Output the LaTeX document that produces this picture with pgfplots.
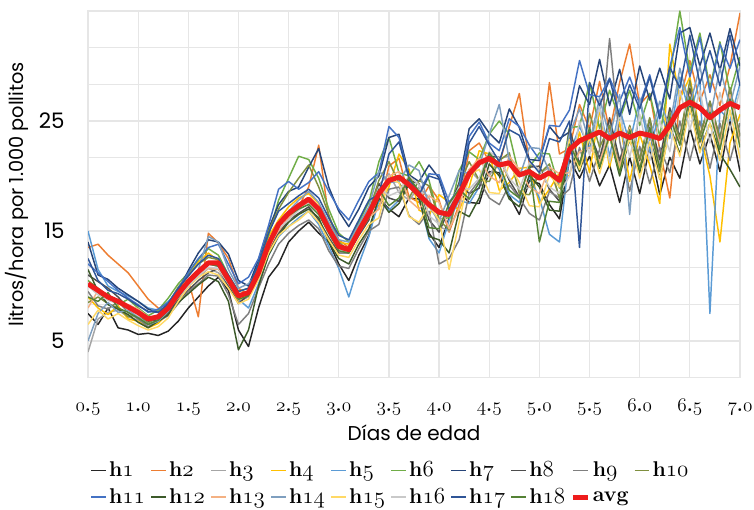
\documentclass[border=0pt]{standalone}
\usepackage{fontspec}
\usepackage{pgfplots}
\usepackage{pgfplotstable}
\pgfplotsset{compat=1.18}
\newfontfamily\gothic{Poppins}
% oldstyle figures from Latin Modern math italic (bold)
\newcommand\osf[1]{{\fontencoding{OML}\fontfamily{lmm}\fontseries{b}\fontshape{it}\selectfont#1}}
\newcommand\tl[2]{\osf{#1}.\osf{#2}}

\definecolor{c1}{HTML}{252525}
\definecolor{c2}{HTML}{ED7D31}
\definecolor{c3}{HTML}{A5A5A5}
\definecolor{c4}{HTML}{FFC000}
\definecolor{c5}{HTML}{5B9BD5}
\definecolor{c6}{HTML}{70AD47}
\definecolor{c7}{HTML}{264478}
\definecolor{c8}{HTML}{4D4D4D}
\definecolor{c9}{HTML}{7F7F7F}
\definecolor{c10}{HTML}{7F8F3F}
\definecolor{c11}{HTML}{4472C4}
\definecolor{c12}{HTML}{3C5A2A}
\definecolor{c13}{HTML}{F4B183}
\definecolor{c14}{HTML}{7F9FBF}
\definecolor{c15}{HTML}{FFD966}
\definecolor{c16}{HTML}{C9C9C9}
\definecolor{c17}{HTML}{2F5597}
\definecolor{c18}{HTML}{548235}
\definecolor{avgred}{HTML}{EE1C1C}
\definecolor{gridc}{HTML}{E6E6E6}

\pgfplotstableread{
x h1 h2 h3 h4 h5 h6 h7 h8 h9 h10 h11 h12 h13 h14 h15 h16 h17 h18 avg
0.5 7.5 13.5 4.0 9.0 15.0 10.5 14.0 11.0 9.5 8.5 12.0 11.5 8.0 5.0 6.5 10.0 12.5 9.0 10.2
0.6 6.5 13.8 7.0 8.0 11.5 9.8 11.0 10.4 8.2 9.0 11.2 9.5 9.6 7.5 7.8 9.2 10.5 8.6 9.6
0.7 8.0 12.8 7.6 7.4 10.0 9.1 10.6 9.8 7.9 8.4 10.4 8.3 8.8 8.5 7.0 8.7 9.6 9.4 9.0
0.8 6.2 12.0 7.8 8.2 9.5 8.3 9.8 9.0 8.6 8.0 9.6 7.9 8.5 7.6 7.5 8.4 9.3 8.0 8.6
0.9 6.0 11.2 7.2 7.0 9.1 8.8 9.2 8.0 7.6 7.2 8.9 7.4 8.3 7.8 6.9 8.0 8.8 7.6 8.1
1.0 5.6 10.0 6.9 6.8 8.6 8.0 8.6 7.4 7.0 7.4 8.3 6.7 7.9 7.2 6.4 7.3 8.2 7.1 7.6
1.1 5.7 8.8 6.5 6.2 8.0 7.3 7.9 6.8 6.3 6.6 7.6 6.2 7.2 6.5 6.0 7.0 7.7 6.5 7.0
1.2 5.5 8.0 6.9 6.6 7.8 7.8 7.6 6.9 6.8 7.3 7.9 6.8 7.1 6.8 6.3 7.4 7.6 6.9 7.2
1.3 5.9 7.8 7.6 7.5 8.6 8.9 8.2 7.6 7.3 8.4 8.5 7.4 7.8 7.7 7.1 8.0 8.4 7.8 8.0
1.4 6.8 9.5 8.8 9.6 9.4 10.2 9.6 8.7 8.4 9.9 9.8 8.5 9.1 9.2 8.6 9.0 9.8 9.0 9.3
1.5 8.0 10.5 10.0 11.0 10.6 11.2 11.4 9.6 9.5 11.0 11.2 9.3 10.2 10.6 9.9 10.0 10.9 10.3 10.4
1.6 9.0 7.2 10.8 12.2 11.3 12.4 13.0 10.5 10.2 12.0 12.5 10.1 11.0 11.5 10.8 10.9 12.0 11.2 11.3
1.7 10.0 14.8 11.6 13.0 12.0 13.4 14.2 11.2 11.0 12.6 13.5 10.8 11.6 14.5 11.3 11.7 12.8 12.0 12.1
1.8 10.8 13.9 11.2 12.3 11.8 12.8 14.0 11.6 10.9 12.4 13.8 10.4 11.5 14.0 11.0 11.6 12.5 11.8 12.1
1.9 9.6 12.5 10.0 10.2 10.4 11.0 12.9 10.0 9.2 10.7 12.0 8.6 10.3 11.5 9.8 10.2 11.0 10.3 10.6
2.0 6.0 9.8 8.6 8.7 8.8 9.5 10.5 8.4 6.5 9.0 10.2 4.2 9.0 9.8 8.4 8.9 9.5 8.8 9.1
2.1 4.5 9.2 9.0 9.3 8.0 9.8 10.0 9.2 7.5 9.5 10.8 6.0 9.6 10.2 8.8 9.5 9.8 9.1 9.4
2.2 8.0 11.0 11.4 11.2 10.2 12.0 12.4 10.8 9.8 11.8 12.5 10.0 11.5 11.4 10.6 11.0 12.0 11.0 11.2
2.3 10.8 13.2 14.0 14.5 12.8 14.6 15.2 13.0 12.0 15.0 15.5 12.8 13.8 14.0 13.0 13.5 14.8 13.6 13.8
2.4 12.0 14.8 16.0 16.0 14.5 17.8 17.4 14.8 13.8 17.0 18.8 14.6 15.0 15.8 14.6 15.2 16.8 15.5 15.6
2.5 14.0 16.0 16.8 17.2 15.4 19.8 18.6 16.0 14.8 18.5 19.5 15.8 16.2 16.8 15.4 16.0 17.5 16.4 16.6
2.6 15.0 17.2 17.5 18.0 16.2 21.8 19.0 16.6 15.5 19.8 18.8 16.5 17.0 17.8 16.0 16.9 18.2 17.0 17.3
2.7 15.8 19.0 18.0 18.4 16.8 21.5 20.8 17.2 16.0 21.0 19.4 17.0 17.6 18.6 16.8 17.5 18.8 17.4 17.9
2.8 14.8 22.8 17.0 17.5 15.6 19.8 22.5 16.0 15.2 19.0 20.4 16.2 16.8 17.6 15.8 16.8 18.0 16.5 17.0
2.9 14.0 16.2 15.0 15.4 13.6 17.0 19.0 14.4 13.2 16.5 18.6 14.0 15.0 15.8 14.2 15.0 16.2 14.8 15.2
3.0 12.0 14.2 13.4 14.0 11.6 14.8 16.8 13.0 11.8 14.0 17.0 12.5 13.4 14.2 12.8 13.6 14.6 13.2 13.6
3.1 10.5 13.5 13.0 13.8 9.0 14.0 15.4 13.0 11.6 13.2 16.0 12.0 13.2 14.0 12.6 13.4 14.2 13.0 13.3
3.2 12.8 15.0 14.8 15.4 12.0 15.8 17.0 14.6 13.4 15.0 17.8 13.8 14.8 15.6 14.2 15.0 16.0 14.8 15.0
3.3 14.6 16.4 16.4 17.0 14.5 17.6 19.0 16.0 15.0 16.8 19.5 15.2 16.2 17.2 15.6 16.4 17.8 16.2 16.6
3.4 18.0 17.0 19.2 17.3 17.8 21.3 20.0 19.3 15.6 19.6 20.3 18.0 17.0 20.5 16.2 19.0 18.3 18.8 18.4
3.5 17.0 20.9 20.2 19.0 16.9 23.5 23.5 18.0 18.8 21.3 24.5 16.7 20.0 19.4 19.7 18.2 22.0 17.3 19.6
3.6 16.3 21.6 18.5 22.0 17.8 20.3 23.8 17.7 19.0 19.4 23.5 17.5 20.4 19.5 19.4 18.6 23.1 18.0 19.9
3.7 18.0 18.1 17.8 20.6 19.7 20.0 20.1 19.6 16.4 18.0 19.8 19.3 17.8 21.0 16.3 20.0 19.8 19.9 19.2
3.8 17.9 17.6 19.0 16.9 18.0 21.3 19.5 19.3 15.6 19.6 18.5 18.0 17.0 20.5 15.8 19.2 18.3 18.6 18.3
3.9 14.8 19.1 18.0 16.4 14.3 19.6 21.0 16.0 16.8 19.1 20.2 14.5 18.2 17.2 17.3 16.4 20.0 15.3 17.4
4.0 13.5 17.8 15.4 18.3 13.0 16.1 19.8 14.9 12.0 16.0 20.1 14.2 17.6 15.9 16.0 15.6 19.7 15.2 16.7
4.1 16.2 14.9 15.0 17.6 16.0 16.2 16.9 17.0 12.5 15.1 17.6 13.0 15.2 18.2 11.5 17.2 17.0 17.5 16.5
4.2 18.5 17.4 18.8 16.9 17.8 20.5 19.4 19.3 14.2 19.2 18.9 16.8 17.0 20.5 15.8 19.0 18.3 18.8 18.3
4.3 17.6 22.3 20.6 19.0 17.5 22.2 24.3 18.4 18.4 21.3 23.6 16.3 20.6 20.2 20.1 18.8 23.0 17.9 20.2
4.4 17.5 23.0 19.6 22.3 19.0 21.5 25.2 18.9 19.6 19.6 24.9 18.0 21.6 20.9 20.6 19.8 24.5 19.4 21.2
4.5 20.4 21.3 20.0 22.0 21.9 23.8 23.9 21.8 18.0 19.5 23.0 21.1 20.0 23.8 18.5 22.2 22.8 22.1 21.6
4.6 20.3 21.0 21.6 18.7 20.6 25.0 23.0 21.7 17.4 21.4 22.3 20.0 19.4 26.5 18.4 21.6 21.3 21.0 21.0
4.7 18.2 24.5 21.8 19.4 18.3 23.8 26.1 19.6 19.2 22.1 25.2 17.9 21.8 21.4 21.1 19.8 24.2 18.7 21.2
4.8 16.5 27.5 18.6 20.7 17.6 20.0 24.4 18.1 18.0 18.4 24.5 17.2 20.6 19.9 19.4 18.8 23.7 18.0 20.1
4.9 19.6 21.1 19.0 20.8 19.9 20.8 21.5 20.8 16.6 18.3 22.8 20.1 19.0 22.6 17.3 21.2 21.4 20.9 20.4
5.0 19.3 20.6 20.2 17.5 18.0 22.1 21.4 20.9 16.0 20.2 21.5 19.0 18.4 22.5 17.2 20.6 20.3 14.0 19.8
5.1 17.4 28.5 20.8 18.8 14.7 22.0 24.5 18.8 18.6 21.1 24.6 16.9 20.8 20.4 20.1 19.0 23.4 17.7 20.3
5.2 16.1 22.0 18.0 20.3 14.0 18.9 23.4 17.7 18.0 18.0 24.5 16.8 20.2 19.3 19.0 18.4 23.1 17.6 19.6
5.3 21.5 22.5 23.6 20.0 22.0 24.4 24.0 24.3 18.8 23.5 26.0 22.6 20.3 23.8 23.3 20.0 25.0 22.9 22.4
5.4 19.8 26.5 20.9 24.0 24.5 24.5 28.2 21.1 22.6 20.8 30.5 20.4 22.2 26.1 20.6 25.0 13.5 21.0 23.2
5.5 21.8 24.3 24.0 20.3 22.5 28.5 26.5 24.0 19.5 25.7 27.4 23.3 22.6 23.0 23.5 21.9 28.5 24.4 23.6
5.6 19.1 28.6 21.2 26.0 26.4 24.3 30.6 21.6 22.4 22.6 27.2 20.7 21.3 27.1 20.2 26.3 26.4 20.8 24.0
5.7 21.0 24.0 25.1 20.8 21.8 27.8 26.4 25.3 32.5 24.6 28.9 23.6 23.9 23.5 23.6 21.2 28.8 23.7 23.4
5.8 17.6 28.5 21.2 24.9 26.1 25.1 29.7 21.4 23.2 20.7 26.8 20.0 20.8 27.4 20.5 25.6 25.4 20.3 23.9
5.9 21.7 32.0 24.1 19.5 23.0 27.8 25.6 24.5 18.6 24.6 29.0 23.4 24.4 16.5 23.4 21.7 28.3 24.2 23.5
6.0 18.4 26.5 21.7 23.8 27.0 24.6 30.0 21.4 22.7 21.5 26.5 20.3 20.8 27.1 19.8 25.6 26.1 20.6 23.9
6.1 22.6 27.5 24.8 21.0 22.2 27.5 26.9 25.2 19.3 25.3 29.2 24.3 24.1 23.2 23.1 21.4 29.0 24.4 23.7
6.2 18.3 22.4 21.1 17.5 26.0 23.6 29.8 21.5 22.6 20.4 25.6 19.7 20.7 26.8 19.7 25.0 25.2 20.7 23.4
6.3 21.7 18.0 25.6 32.0 23.4 29.2 27.0 26.2 20.3 25.8 29.9 24.6 25.4 24.5 24.4 22.2 29.9 25.4 24.6
6.4 19.8 26.9 23.2 27.0 29.0 35.0 33.0 23.6 25.0 23.4 33.5 22.0 23.0 29.8 21.8 27.8 28.0 22.8 26.2
6.5 24.4 30.5 27.6 29.0 25.6 29.5 33.5 28.0 21.4 28.7 29.0 26.4 27.4 26.4 26.2 24.2 32.8 27.2 26.7
6.6 21.1 26.8 23.7 24.0 28.8 33.0 30.0 23.6 25.0 23.6 32.6 22.3 23.0 30.0 22.1 27.8 28.4 23.1 26.2
6.7 23.8 29.2 26.4 20.0 7.5 28.0 33.0 26.8 20.7 26.8 27.6 24.8 26.2 25.2 24.8 23.0 31.4 25.8 25.3
6.8 20.4 26.4 23.0 14.0 26.0 32.2 29.6 23.4 24.8 23.4 32.0 22.0 22.8 29.8 21.4 27.6 28.2 22.4 26.0
6.9 25.0 30.0 27.6 23.0 25.0 27.6 33.4 28.0 21.4 28.0 29.8 20.6 27.4 26.4 26.0 24.2 32.8 27.0 26.6
7.0 20.4 34.8 23.2 25.6 28.4 30.8 30.0 23.6 24.8 23.6 32.4 19.0 23.0 30.0 21.6 27.8 28.2 22.6 26.2
}\data

\begin{document}
\begin{tikzpicture}
\begin{axis}[
  scale only axis,
  width=489pt, height=275pt,
  xmin=0.5, xmax=7.0,
  ymin=1.6667, ymax=35,
  xtick={0.5,1,...,7},
  xticklabels={\tl{0}{5},\tl{1}{0},\tl{1}{5},\tl{2}{0},\tl{2}{5},\tl{3}{0},\tl{3}{5},\tl{4}{0},\tl{4}{5},\tl{5}{0},\tl{5}{5},\tl{6}{0},\tl{6}{5},\tl{7}{0}},
  ytick={5,15,25},
  yticklabels={5,15,25},
  minor ytick={1.6667,8.3333,11.6667,18.3333,21.6667,28.3333,31.6667,35},
  xmajorgrids, ymajorgrids, yminorgrids,
  major grid style={gridc,line width=0.9pt},
  minor grid style={gridc,line width=0.9pt},
  major tick length=0pt, minor tick length=0pt,
  axis line style={draw=gridc,line width=1pt},
  xticklabel style={font=\bfseries\fontsize{14.5}{18}\selectfont,anchor=base,yshift=-25pt},
  yticklabel style={font=\gothic\fontsize{16}{19}\selectfont,xshift=-14pt},
  xlabel={Días de edad},
  ylabel={litros/hora por 1.000 pollitos},
  xlabel style={font=\gothic\fontsize{15}{18}\selectfont,at={(axis description cs:0.5,-0.149)},anchor=center},
  ylabel style={font=\gothic\fontsize{14.5}{17}\selectfont,at={(axis description cs:-0.1086,0.5)},anchor=center},
  legend columns=10,
  legend cell align=left,
  legend image code/.code={\draw[#1] (0pt,0pt) -- (11pt,0pt);},
  legend style={font=\bfseries\fontsize{16}{19}\selectfont,draw=none,fill=none,inner sep=0pt,
    at={(axis description cs:0,0)},anchor=north west,xshift=1.5pt,yshift=-61pt,
    /tikz/every even column/.append style={column sep=2pt},row sep=3.5pt},
  every axis plot/.append style={line width=1.1pt,line join=round},
]
\pgfplotsinvokeforeach{1,...,18}{
  \addplot[color=c#1] table[x=x,y=h#1]{\data};
  \addlegendentry{h\osf{#1}}
}
\addplot[color=avgred,line width=3.75pt] table[x=x,y=avg]{\data};
\addlegendentry{avg}
\end{axis}
\pgfresetboundingbox
\path[use as bounding box] ([xshift=-66pt,yshift=-99pt]current axis.south west) rectangle ([xshift=10.5pt,yshift=8.25pt]current axis.north east);
\end{tikzpicture}
\end{document}
